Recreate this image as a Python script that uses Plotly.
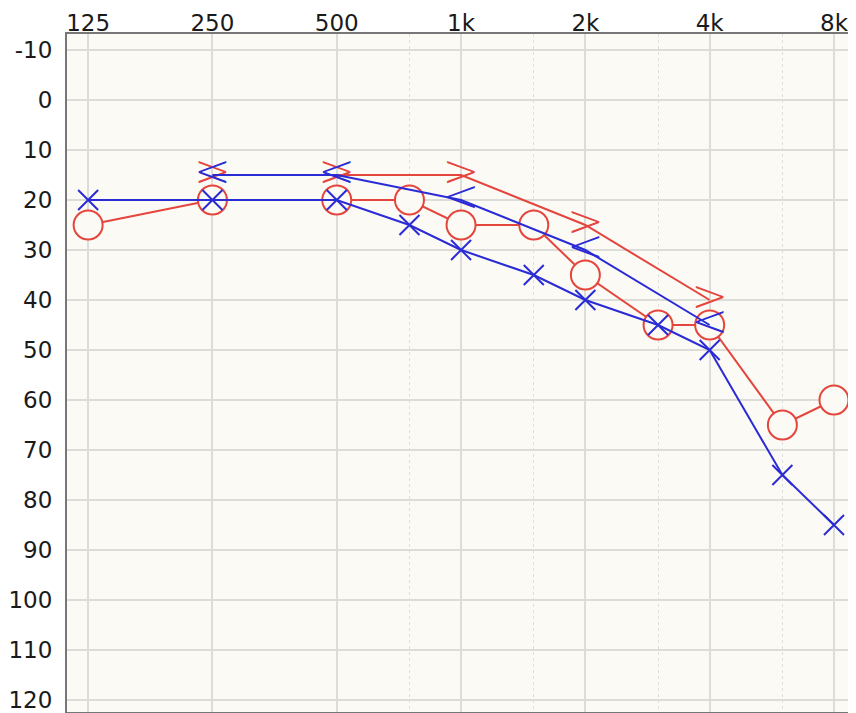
import math
import plotly.graph_objects as go

# ---- data ----
freqs = [125, 250, 500, 750, 1000, 1500, 2000, 3000, 4000, 6000, 8000]
right_air = [25, 20, 20, 20, 25, 25, 35, 45, 45, 65, 60]      # red O
left_air = [20, 20, 20, 25, 30, 35, 40, 45, 50, 75, 85]       # blue X
bone_freqs = [250, 500, 1000, 2000, 4000]
right_bone = [15, 15, 15, 25, 40]                              # red >
left_bone = [15, 15, 20, 30, 45]                               # blue <
x_tickvals = [125, 250, 500, 1000, 2000, 4000, 8000]
x_ticktext = ["125", "250", "500", "1k", "2k", "4k", "8k"]
x_minor = [750, 1500, 3000, 6000]
y_tickvals = list(range(-10, 130, 10))
y_ticktext = [str(v) for v in y_tickvals]

RED = "#e4453d"
BLUE = "#2b2bd6"
BG = "#fbfaf4"

fig = go.Figure()

fig.add_trace(go.Scatter(
    x=freqs, y=right_air, mode="lines+markers",
    marker=dict(symbol="circle", size=29, color=BG, line=dict(width=2, color=RED)),
    line=dict(color=RED, width=2), cliponaxis=False, showlegend=False))
fig.add_trace(go.Scatter(
    x=bone_freqs, y=right_bone, mode="lines+text",
    text=[">"] * len(bone_freqs), textposition="middle center",
    textfont=dict(family="DejaVu Sans", size=44, color=RED, weight=200),
    line=dict(color=RED, width=2), cliponaxis=False, showlegend=False))
fig.add_trace(go.Scatter(
    x=bone_freqs, y=left_bone, mode="lines+text",
    text=["<"] * len(bone_freqs), textposition="middle center",
    textfont=dict(family="DejaVu Sans", size=44, color=BLUE, weight=200),
    line=dict(color=BLUE, width=2), cliponaxis=False, showlegend=False))
fig.add_trace(go.Scatter(
    x=freqs, y=left_air, mode="lines+markers",
    marker=dict(symbol="x-thin-open", size=20, color=BLUE, line=dict(width=2, color=BLUE)),
    line=dict(color=BLUE, width=2), cliponaxis=False, showlegend=False))

xlo = math.log10(125) - 0.17 * math.log10(2)
xhi = math.log10(8000) + 0.145 * math.log10(2)

fig.add_shape(type="line", xref="paper", x0=0, x1=1, yref="y", y0=0, y1=0,
              line=dict(color="#8a8a8a", width=2, dash="dot"), layer="below")

# page body has an 8px margin, so the figure is sized to fit the window
fig.update_layout(
    width=848, height=705,
    margin=dict(l=59, r=4, t=26, b=1),
    paper_bgcolor="white", plot_bgcolor=BG,
    font=dict(family="DejaVu Sans", size=23, color="#1a1a1a"),
    xaxis=dict(type="log", range=[xlo, xhi], side="top", automargin=False,
               tickvals=x_tickvals, ticktext=x_ticktext,
               showgrid=True, gridcolor="#dcdcd8", gridwidth=2,
               zeroline=False, showline=True, linecolor="#777777", linewidth=2,
               mirror=True, ticks="", ticklen=0, ticklabelstandoff=-8,
               ticklabeloverflow="allow",
               minor=dict(tickvals=x_minor, showgrid=True, gridcolor="#dedede",
                          gridwidth=1, griddash="dot", ticks="")),
    yaxis=dict(range=[122.4, -13.2], tickvals=y_tickvals, ticktext=y_ticktext,
               automargin=False, ticklabeloverflow="allow",
               showgrid=True, gridcolor="#dcdcd8", gridwidth=2,
               zeroline=False, showline=True, linecolor="#777777", linewidth=2,
               mirror=True, ticks="", ticklen=0, ticklabelstandoff=8),
)

fig.write_html("out.html")
